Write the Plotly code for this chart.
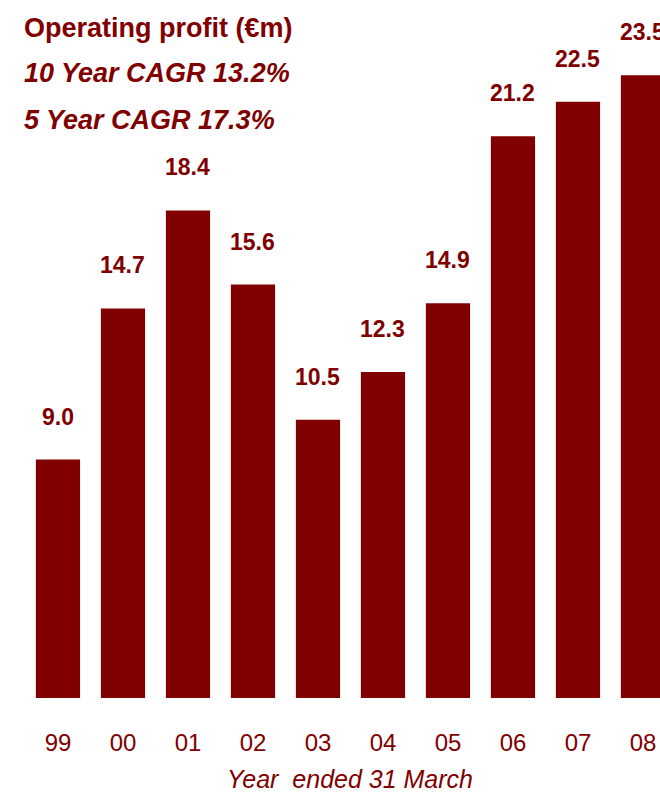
import plotly.graph_objects as go

# Operating profit by financial year (EUR m)
years = ["99", "00", "01", "02", "03", "04", "05", "06", "07", "08"]
profit = [9.0, 14.7, 18.4, 15.6, 10.5, 12.3, 14.9, 21.2, 22.5, 23.5]
value_labels = ["9.0", "14.7", "18.4", "15.6", "10.5", "12.3", "14.9", "21.2", "22.5", "23.5"]

title_lines = ["Operating profit (€m)", "10 Year CAGR 13.2%", "5 Year CAGR 17.3%"]
axis_title = "Year\u00a0 ended 31 March"

RED = "#800000"
FONT = "Liberation Sans, Arial, Helvetica, sans-serif"

W, H = 660, 793
BOTTOM = 95
PLOT_H = H - BOTTOM  # plot area spans the full width and top of the page

fig = go.Figure()
fig.add_trace(go.Bar(
    x=list(range(len(years))),
    y=profit,
    marker=dict(color=RED, line=dict(width=0)),
    width=0.68,
    hoverinfo="skip",
))

annotations = []
for i, (v, t) in enumerate(zip(profit, value_labels)):
    annotations.append(dict(
        x=i, y=v, xref="x", yref="y", text=f"<b>{t}</b>", showarrow=False,
        yanchor="middle", xanchor="center", yshift=43,
        font=dict(family=FONT, size=23, color=RED),
    ))

title_y = [28, 73, 120]
for k, (line, yy) in enumerate(zip(title_lines, title_y)):
    txt = f"<b>{line}</b>" if k == 0 else f"<b><i>{line}</i></b>"
    annotations.append(dict(
        x=22 / W, y=1 - yy / PLOT_H, xref="paper", yref="paper", text=txt,
        showarrow=False, xanchor="left", yanchor="middle",
        font=dict(family=FONT, size=27, color=RED),
    ))

annotations.append(dict(
    x=350 / W, y=(PLOT_H - 779) / PLOT_H, xref="paper", yref="paper",
    text=f"<i>{axis_title}</i>", showarrow=False,
    xanchor="center", yanchor="middle",
    font=dict(family=FONT, size=25, color=RED),
))

fig.update_layout(
    width=W, height=H,
    margin=dict(l=0, r=0, t=0, b=BOTTOM),
    paper_bgcolor="white", plot_bgcolor="white",
    showlegend=False,
    annotations=annotations,
    xaxis=dict(
        range=[-0.892, 9.262],
        tickmode="array",
        tickvals=list(range(len(years))),
        ticktext=years,
        ticks="outside", ticklen=23, tickcolor="rgba(0,0,0,0)",
        tickfont=dict(family=FONT, size=24, color=RED),
        showgrid=False, zeroline=False, showline=False,
    ),
    yaxis=dict(
        range=[0, PLOT_H / 26.5],
        visible=False, showgrid=False, zeroline=False,
    ),
)

fig.write_html("out.html")
